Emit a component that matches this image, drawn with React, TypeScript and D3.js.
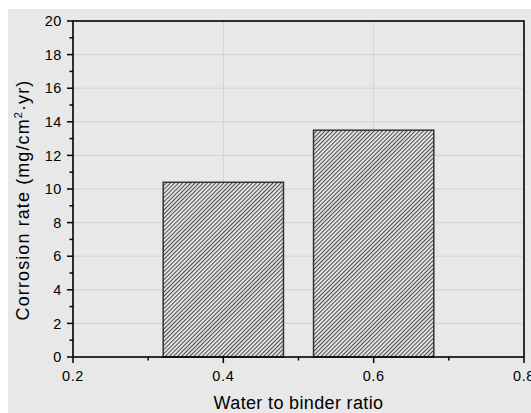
import React from 'react';
import * as d3 from 'd3';

const width = 531;
const height = 413;
const margin = { top: 21, right: 7, bottom: 56, left: 73 };

const ratios = [0.4, 0.6];
const corrosionRates = [10.4, 13.5];
const barWidth = 0.16;
const xTicks = [0.2, 0.4, 0.6, 0.8];
const xMinorTicks = [0.3, 0.5, 0.7];
const yTicks = [0, 2, 4, 6, 8, 10, 12, 14, 16, 18, 20];
const yMinorTicks = [1, 3, 5, 7, 9, 11, 13, 15, 17, 19];

const x = d3.scaleLinear()
  .domain([0.2, 0.8])
  .range([margin.left, width - margin.right]);

const y = d3.scaleLinear()
  .domain([0, 20])
  .range([height - margin.bottom, margin.top]);

const font = '"Liberation Sans", Arial, sans-serif';

const App = () => {
  const x0 = x.range()[0];
  const x1 = x.range()[1];
  const y0 = y.range()[0];
  const y1 = y.range()[1];
  return (
    <div style={{ position: 'absolute', left: 0, top: 0 }}>
      <svg width={width} height={height} style={{ display: 'block' }}>
        <defs>
          <pattern
            id="hatch"
            patternUnits="userSpaceOnUse"
            width={2.9}
            height={2.9}
            patternTransform="rotate(45)"
          >
            <rect width={2.9} height={2.9} fill="#e4e4e4" />
            <line x1={0.5} y1={0} x2={0.5} y2={2.9} stroke="#4a4a4a" strokeWidth={1} />
          </pattern>
        </defs>
        <rect width={width} height={height} fill="#fff" />
        <rect x={8} y={9} width={width - 8} height={height - 9} fill="#e8e8e8" />

        {/* grid */}
        {yTicks.slice(1, -1).map(t => (
          <line key={'gy' + t} x1={x0} x2={x1} y1={y(t)} y2={y(t)} stroke="#d2d2d2" strokeWidth={1} />
        ))}
        {xTicks.slice(1, -1).map(t => (
          <line key={'gx' + t} x1={x(t)} x2={x(t)} y1={y0} y2={y1} stroke="#d2d2d2" strokeWidth={1} />
        ))}

        {/* bars */}
        {ratios.map((r, i) => (
          <rect
            key={'bar' + i}
            x={x(r - barWidth / 2)}
            y={y(corrosionRates[i])}
            width={x(r + barWidth / 2) - x(r - barWidth / 2)}
            height={y0 - y(corrosionRates[i])}
            fill="url(#hatch)"
            stroke="#333"
            strokeWidth={1.5}
          />
        ))}

        {/* frame */}
        <rect x={x0} y={y1} width={x1 - x0} height={y0 - y1} fill="none" stroke="#000" strokeWidth={1.6} />

        {/* y ticks */}
        {yTicks.map(t => (
          <g key={'yt' + t}>
            <line x1={x0 - 6} x2={x0} y1={y(t)} y2={y(t)} stroke="#000" strokeWidth={1.5} />
            <text x={x0 - 11} y={y(t)} dy="0.36em" textAnchor="end" fontSize={14.5} letterSpacing={0.6} fontFamily={font}>{t}</text>
          </g>
        ))}
        {yMinorTicks.map(t => (
          <line key={'ym' + t} x1={x0 - 3.5} x2={x0} y1={y(t)} y2={y(t)} stroke="#000" strokeWidth={1.5} />
        ))}

        {/* x ticks */}
        {xTicks.map(t => (
          <g key={'xt' + t}>
            <line x1={x(t)} x2={x(t)} y1={y0} y2={y0 + 6} stroke="#000" strokeWidth={1.5} />
            <text x={x(t)} y={y0 + 24} textAnchor="middle" fontSize={14.5} letterSpacing={0.6} fontFamily={font}>{t.toFixed(1)}</text>
          </g>
        ))}
        {xMinorTicks.map(t => (
          <line key={'xm' + t} x1={x(t)} x2={x(t)} y1={y0} y2={y0 + 3.5} stroke="#000" strokeWidth={1.5} />
        ))}

        {/* axis titles */}
        <text x={(x0 + x1) / 2} y={409} textAnchor="middle" fontSize={18} letterSpacing={0.35} fontFamily={font}>
          Water to binder ratio
        </text>
        <text
          transform={`translate(28.5,200) rotate(-90)`}
          textAnchor="middle"
          fontSize={18}
          letterSpacing={1.1}
          fontFamily={font}
        >
          Corrosion rate (mg/cm<tspan dy={-7} fontSize={11}>2</tspan><tspan dy={7}>·yr)</tspan>
        </text>
      </svg>
    </div>
  );
};

export default App;
